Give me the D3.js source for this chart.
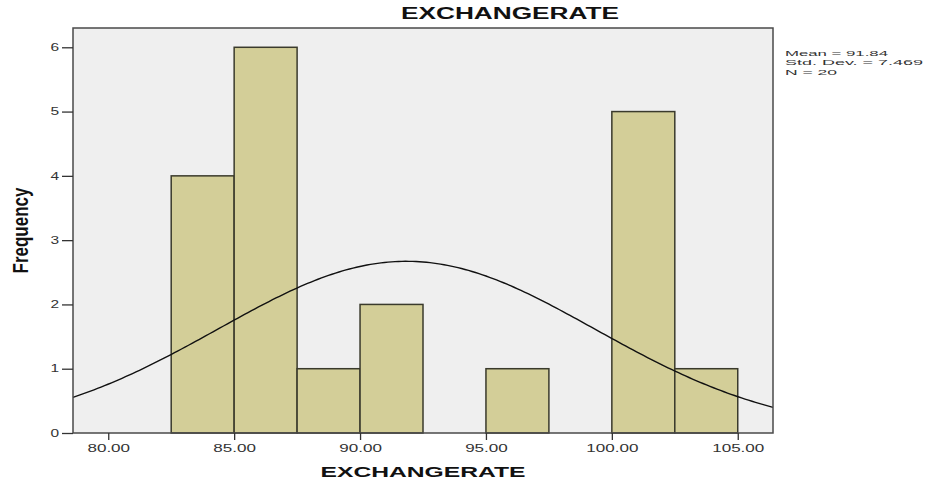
<!DOCTYPE html>
<html>
<head>
<meta charset="utf-8">
<script src="https://cdn.jsdelivr.net/npm/d3@7"></script>
<style>
  html, body { margin: 0; padding: 0; background: #ffffff; }
  svg { display: block; }
  text { font-family: "Liberation Sans", Arial, sans-serif; }
</style>
</head>
<body>
<svg id="chart" width="926" height="480"></svg>
<script>
// Histogram of EXCHANGERATE with a fitted normal curve
const binEdges = [82.5, 85, 87.5, 90, 92.5, 95, 97.5, 100, 102.5, 105];
const binCounts = [4, 6, 1, 2, 0, 1, 0, 5, 1];
const xTickValues = [80, 85, 90, 95, 100, 105];
const yTickValues = [0, 1, 2, 3, 4, 5, 6];
const statMean = 91.84;
const statStdDev = 7.469;
const statN = 20;
const statLines = ["Mean = 91.84", "Std. Dev. = 7.469", "N = 20"];
const varName = "EXCHANGERATE";

const svg = d3.select("#chart");
const plot = { left: 73, right: 773, top: 28, bottom: 433 };
const stretch = 1.55; // horizontal stretch applied to tick label glyphs

const x = d3.scaleLinear().domain([78.6, 106.4]).range([plot.left, plot.right]);
const y = d3.scaleLinear().domain([0, 6.3]).range([plot.bottom, plot.top]);

// plot background
svg.append("rect")
  .attr("x", plot.left).attr("y", plot.top)
  .attr("width", plot.right - plot.left).attr("height", plot.bottom - plot.top)
  .attr("fill", "#efefef");

// bars
const bins = binCounts.map((c, i) => ({ x0: binEdges[i], x1: binEdges[i + 1], count: c }))
  .filter(d => d.count > 0);
svg.append("g").selectAll("rect").data(bins).join("rect")
  .attr("x", d => x(d.x0))
  .attr("y", d => y(d.count))
  .attr("width", d => x(d.x1) - x(d.x0))
  .attr("height", d => y(0) - y(d.count))
  .attr("fill", "#d3ce98")
  .attr("stroke", "#3a3a2c")
  .attr("stroke-width", 1.5);

// normal curve scaled to counts
const binWidth = binEdges[1] - binEdges[0];
const normal = v => statN * binWidth / (statStdDev * Math.sqrt(2 * Math.PI)) *
  Math.exp(-0.5 * Math.pow((v - statMean) / statStdDev, 2));
const dom = x.domain();
const curvePts = d3.range(0, 201).map(i => dom[0] + (dom[1] - dom[0]) * i / 200);
svg.append("path")
  .datum(curvePts)
  .attr("fill", "none")
  .attr("stroke", "#111")
  .attr("stroke-width", 1.4)
  .attr("d", d3.line().x(v => x(v)).y(v => y(normal(v))));

// frame
svg.append("rect")
  .attr("x", plot.left).attr("y", plot.top)
  .attr("width", plot.right - plot.left).attr("height", plot.bottom - plot.top)
  .attr("fill", "none")
  .attr("stroke", "#4a4a4a")
  .attr("stroke-width", 1.5);

// y axis
const yAxis = svg.append("g")
  .attr("transform", `translate(${plot.left},0)`)
  .call(d3.axisLeft(y).tickValues(yTickValues).tickFormat(d3.format("d")).tickSize(11).tickSizeOuter(0));
yAxis.select(".domain").remove();
yAxis.selectAll(".tick line").attr("stroke", "#333").attr("stroke-width", 1.3);
yAxis.selectAll(".tick text")
  .attr("x", 0).attr("dx", 0)
  .attr("transform", `translate(-14,0) scale(${stretch},1)`)
  .attr("font-size", 10)
  .attr("fill", "#333");

// x axis
const xAxis = svg.append("g")
  .attr("transform", `translate(0,${plot.bottom})`)
  .call(d3.axisBottom(x).tickValues(xTickValues).tickFormat(d3.format(".2f")).tickSize(7).tickSizeOuter(0));
xAxis.select(".domain").remove();
xAxis.selectAll(".tick line").attr("stroke", "#333").attr("stroke-width", 1.3);
xAxis.selectAll(".tick text")
  .attr("y", 0).attr("dy", 0)
  .attr("transform", `translate(0,19) scale(${stretch},1)`)
  .attr("font-size", 11)
  .attr("fill", "#333");

// title
svg.append("text")
  .attr("x", 510).attr("y", 19)
  .attr("text-anchor", "middle")
  .attr("font-size", 16).attr("font-weight", "bold")
  .attr("textLength", 218).attr("lengthAdjust", "spacingAndGlyphs")
  .attr("fill", "#111")
  .text(varName);

// x axis title
svg.append("text")
  .attr("x", (plot.left + plot.right) / 2).attr("y", 477)
  .attr("text-anchor", "middle")
  .attr("font-size", 15).attr("font-weight", "bold")
  .attr("textLength", 205).attr("lengthAdjust", "spacingAndGlyphs")
  .attr("fill", "#111")
  .text(varName);

// y axis title
svg.append("text")
  .attr("transform", `translate(28,${(plot.top + plot.bottom) / 2}) scale(1.3,1) rotate(-90)`)
  .attr("text-anchor", "middle")
  .attr("font-size", 17).attr("font-weight", "bold")
  .attr("font-family", "'Liberation Sans Narrow', 'Liberation Sans', Arial, sans-serif")
  .attr("fill", "#111")
  .text("Frequency");

// summary statistics
const statWidths = [103, 138, 52];
svg.append("g").selectAll("text").data(statLines).join("text")
  .attr("x", 785)
  .attr("y", (d, i) => 56 + i * 9.3)
  .attr("font-size", 8)
  .attr("textLength", (d, i) => statWidths[i])
  .attr("lengthAdjust", "spacingAndGlyphs")
  .attr("fill", "#333")
  .text(d => d);
</script>
</body>
</html>
